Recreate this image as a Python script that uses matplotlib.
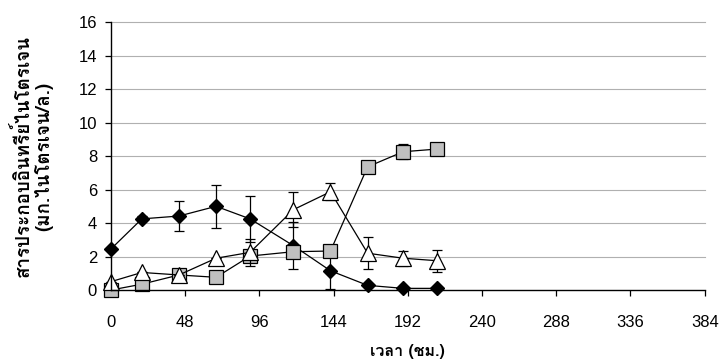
import matplotlib
matplotlib.use("Agg")
import matplotlib.pyplot as plt
from matplotlib import font_manager as fm
from fontTools.ttLib import TTFont

# busco una fuente instalada que tenga glifos tailandeses
thai_font = None
for f in fm.fontManager.ttflist:
    try:
        tt = TTFont(f.fname, fontNumber=0, lazy=True)
        cmap = tt.getBestCmap()
        if cmap and 0x0E01 in cmap and 0x0E32 in cmap:
            thai_font = f.name
            break
    except Exception:
        continue

families = ([thai_font] if thai_font else []) + ["Liberation Sans", "DejaVu Sans"]
plt.rcParams['font.family'] = families

# datos
horas = [0, 20, 44, 68, 90, 118, 142, 166, 189, 211]

rombo = [2.45, 4.25, 4.42, 5.0, 4.25, 2.65, 1.15, 0.28, 0.1, 0.1]
rombo_err = [0, 0.15, 0.87, 1.3, 1.38, 1.4, 1.1, 0, 0, 0]

triangulo = [0.5, 1.05, 0.9, 1.9, 2.25, 4.8, 5.87, 2.2, 1.9, 1.75]
triangulo_err = [0, 0, 0, 0, 0.8, 1.05, 0.5, 0.95, 0.45, 0.65]

cuadrado = [0.0, 0.35, 0.9, 0.76, 2.03, 2.29, 2.33, 7.36, 8.26, 8.42]
cuadrado_err = [0, 0, 0, 0, 0, 0, 0, 0, 0.45, 0]

x_ticks = [0, 48, 96, 144, 192, 240, 288, 336, 384]
y_ticks = [0, 2, 4, 6, 8, 10, 12, 14, 16]

fig = plt.figure(figsize=(7.25, 3.63), dpi=100)
ax = fig.add_axes([0.153, 0.201, 0.819, 0.738])

for y in y_ticks[1:]:
    ax.axhline(y, color='#b0b0b0', lw=0.8, zorder=0)

ax.errorbar(horas, rombo, yerr=rombo_err, color='black', lw=0.9,
            marker='D', ms=7.5, mfc='black', mec='black',
            capsize=3.5, elinewidth=0.9, capthick=0.9, zorder=3)
ax.errorbar(horas, cuadrado, yerr=cuadrado_err, color='black', lw=0.9,
            marker='s', ms=10, mfc='#c0c0c0', mec='black', mew=0.9,
            capsize=3.5, elinewidth=0.9, capthick=0.9, zorder=4)
ax.errorbar(horas, triangulo, yerr=triangulo_err, color='black', lw=0.9,
            marker='^', ms=11, mfc='white', mec='black', mew=0.9,
            capsize=3.5, elinewidth=0.9, capthick=0.9, zorder=5)

ax.set_xlim(0, 384)
ax.set_ylim(0, 16)
ax.set_xticks(x_ticks)
ax.set_yticks(y_ticks)
ax.tick_params(axis='both', labelsize=12, direction='out', length=4, width=0.9, pad=6)
ax.tick_params(axis='x', pad=14)
for s in ['top', 'right']:
    ax.spines[s].set_visible(False)
for s in ['left', 'bottom']:
    ax.spines[s].set_linewidth(1.0)
    ax.spines[s].set_zorder(6)
for lab in ax.get_xticklabels() + ax.get_yticklabels():
    lab.set_fontfamily(['Liberation Sans', 'DejaVu Sans'])
for art in ax.get_children():
    try:
        art.set_clip_on(False)
    except Exception:
        pass

ax.set_xlabel('เวลา (ชม.)', fontsize=11.5, fontweight='bold', labelpad=10)
ax.set_ylabel('สารประกอบอินทรีย์ไนโตรเจน\n(มก.ไนโตรเจน/ล.)', fontsize=13.5,
              fontweight='bold', labelpad=18, linespacing=1.1)

fig.savefig('out.png', dpi=100)
